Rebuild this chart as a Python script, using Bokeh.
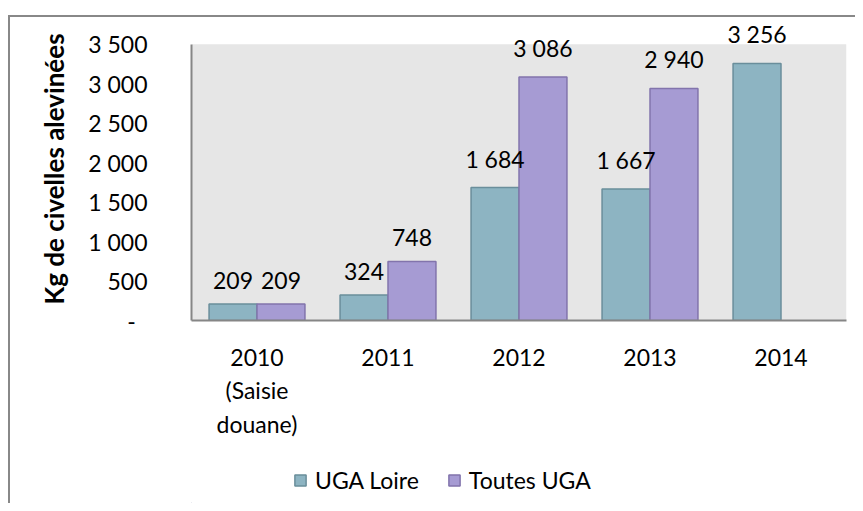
from bokeh.plotting import figure
from bokeh.layouts import column
from bokeh.models import (ColumnDataSource, FactorRange, Range1d, FixedTicker,
                          CustomJSTickFormatter, LabelSet, Legend, LegendItem,
                          BoxAnnotation)
from bokeh.core.properties import value
from bokeh.transform import dodge
from bokeh.embed import file_html
from bokeh.resources import INLINE

categories = ["2010\n(Saisie\ndouane)", "2011", "2012", "2013", "2014"]
uga_loire = [209, 324, 1684, 1667, 3256]
toutes_uga = [209, 748, 3086, 2940, None]
y_ticks = [0, 500, 1000, 1500, 2000, 2500, 3000, 3500]
series_names = ["UGA Loire", "Toutes UGA"]
y_max = 3500

FONT = "Lato"
FS = "23px"
LOIRE_FILL, LOIRE_LINE = "#8DB4C2", "#6A8E9B"
TOUTES_FILL, TOUTES_LINE = "#A69BD3", "#8274AC"


def fmt(v):
    return "" if v is None else f"{v:,}".replace(",", " ")


src_l = ColumnDataSource(dict(x=categories, top=uga_loire,
                              lab=[fmt(v) for v in uga_loire]))
cats_t = [c for c, v in zip(categories, toutes_uga) if v is not None]
vals_t = [v for v in toutes_uga if v is not None]
src_t = ColumnDataSource(dict(x=cats_t, top=vals_t, lab=[fmt(v) for v in vals_t]))

# frame spans 306 px; the value axis (0..3500) occupies the lower 279 px
frame_px, axis_px = 306, 279
p = figure(width=845, height=423, x_range=FactorRange(*categories),
           y_range=Range1d(0, y_max * frame_px / axis_px),
           output_backend="svg", toolbar_location=None,
           min_border_left=181, min_border_right=9, min_border_top=0,
           min_border_bottom=117)
p.x_range.range_padding = 0
p.background_fill_color = "white"
p.border_fill_color = "white"
p.outline_line_color = None
p.grid.grid_line_color = None
p.add_layout(BoxAnnotation(bottom=0, top=y_max, fill_color="#E6E6E6", fill_alpha=1,
                           line_color=None, level="underlay"))

bw = 0.366
p.vbar(x=dodge("x", -bw / 2, range=p.x_range), top="top", width=bw, source=src_l,
       fill_color=LOIRE_FILL, line_color=LOIRE_LINE, line_width=1.5)
p.vbar(x=dodge("x", bw / 2, range=p.x_range), top="top", width=bw, source=src_t,
       fill_color=TOUTES_FILL, line_color=TOUTES_LINE, line_width=1.5)

for src, off in ((src_l, -bw / 2), (src_t, bw / 2)):
    p.add_layout(LabelSet(x=dodge("x", off, range=p.x_range), y="top", text="lab",
                          source=src, text_align="center", text_baseline="bottom",
                          y_offset=15, text_font=value(FONT), text_font_size=value(FS),
                          text_color="black"))

p.yaxis.ticker = FixedTicker(ticks=y_ticks)
p.yaxis.bounds = (0, y_max)
p.yaxis.formatter = CustomJSTickFormatter(code="""
if (tick == 0) { return "-\u00a0\u00a0"; }
var s = String(Math.round(tick));
if (s.length > 3) { s = s.slice(0, s.length - 3) + " " + s.slice(s.length - 3); }
return s;
""")
for ax in (p.xaxis, p.yaxis):
    ax.axis_line_color = "#868686"
    ax.axis_line_width = 2
    ax.major_tick_line_color = None
    ax.minor_tick_line_color = None
    ax.major_tick_in = 0
    ax.major_tick_out = 0
    ax.major_label_text_font = FONT
    ax.major_label_text_font_size = FS
    ax.major_label_text_color = "black"
p.yaxis.major_label_standoff = 44
p.xaxis.major_label_standoff = 22
p.yaxis.axis_label = "Kg de civelles alevinées"
p.yaxis.axis_label_text_font = FONT
p.yaxis.axis_label_text_font_size = "26px"
p.yaxis.axis_label_text_font_style = "bold"
p.yaxis.axis_label_text_color = "black"
p.yaxis.axis_label_standoff = 15

# legend strip
lg = figure(width=845, height=63, x_range=Range1d(0, 1), y_range=Range1d(0, 1),
            output_backend="svg", toolbar_location=None,
            min_border_left=0, min_border_right=0, min_border_top=0, min_border_bottom=0)
lg.axis.visible = False
lg.grid.visible = False
lg.outline_line_color = None
lg.background_fill_color = "white"
# proxy renderers placed outside the visible range, used only for legend swatches
e1 = lg.vbar(x=[-5], top=[-5], width=0.1, fill_color=LOIRE_FILL,
             line_color=LOIRE_LINE, line_width=1.5)
e2 = lg.vbar(x=[-5], top=[-5], width=0.1, fill_color=TOUTES_FILL,
             line_color=TOUTES_LINE, line_width=1.5)
legend = Legend(items=[LegendItem(label=series_names[0], renderers=[e1]),
                       LegendItem(label=series_names[1], renderers=[e2])],
                orientation="horizontal", location=(102, 9),
                label_text_font=FONT, label_text_font_size=FS,
                label_text_color="black", glyph_width=14, glyph_height=14,
                label_standoff=8, spacing=28, padding=0, margin=0,
                border_line_color=None, background_fill_alpha=0)
lg.add_layout(legend, "center")

layout = column(p, lg, spacing=0, margin=(15, 0, 0, 8),
                styles={"border-top": "2px solid #888888",
                        "border-left": "2px solid #888888"})

open("out.html", "w").write(file_html(layout, INLINE))
